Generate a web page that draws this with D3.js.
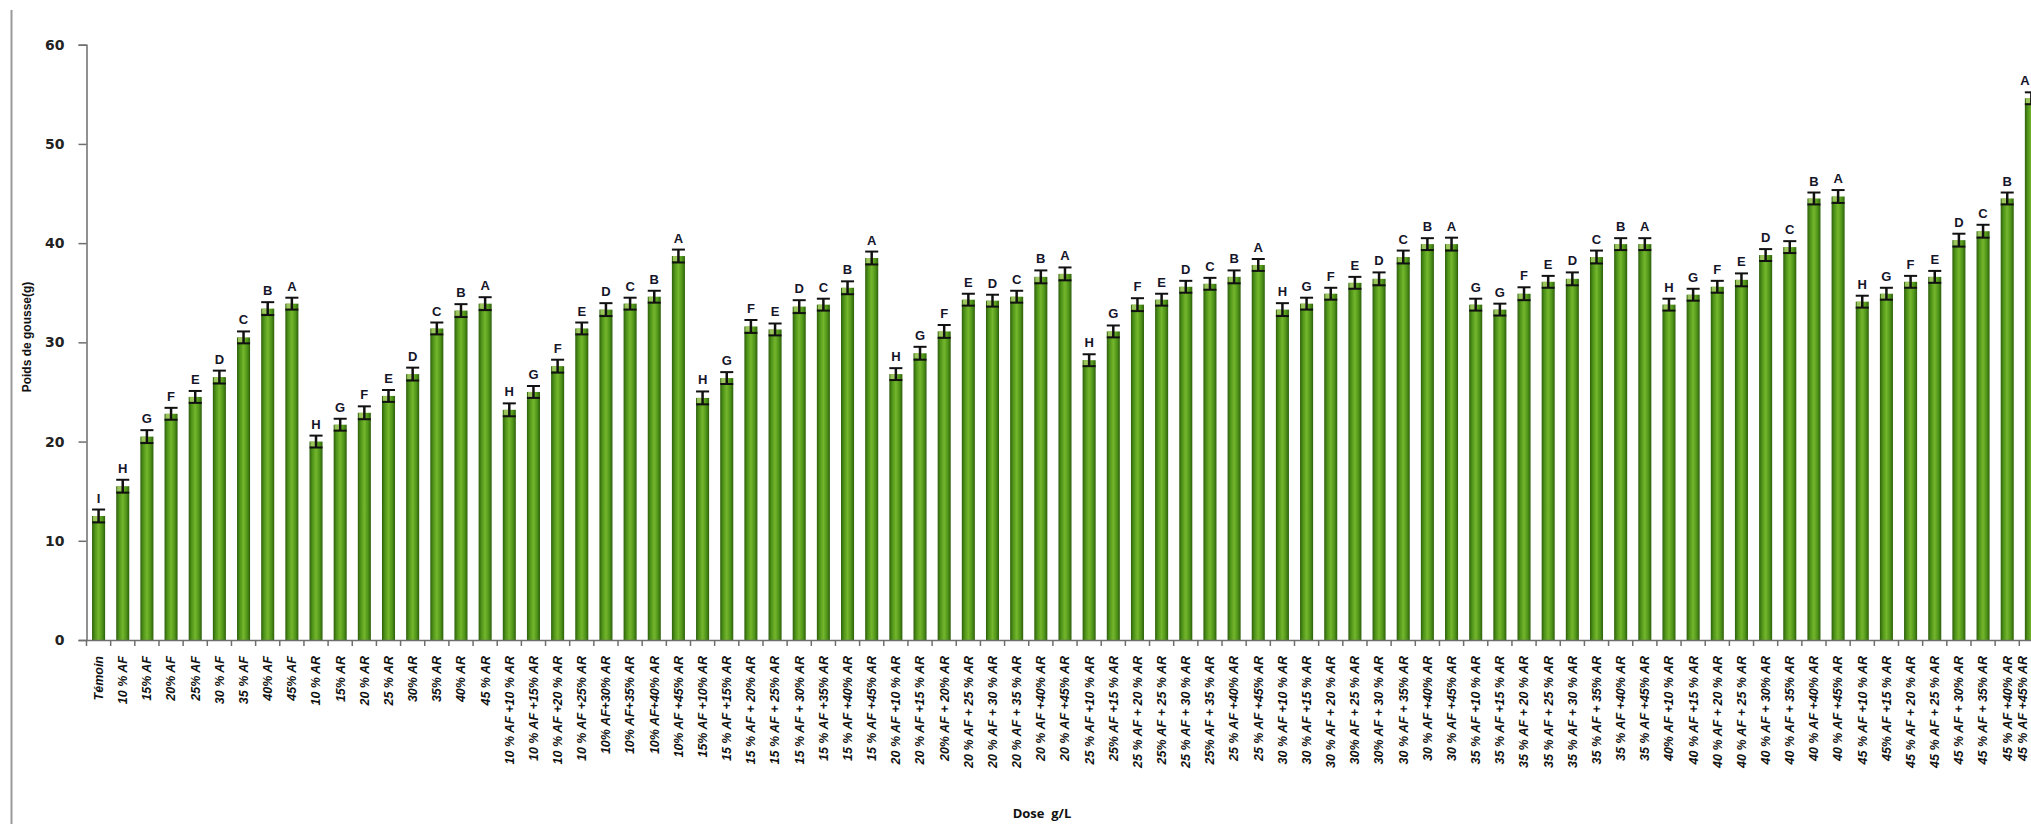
<!DOCTYPE html>
<html>
<head>
<meta charset="utf-8">
<script src="https://cdn.jsdelivr.net/npm/d3@7"></script>
<style>
  html, body { margin: 0; padding: 0; background: #ffffff; }
  svg { display: block; }
</style>
</head>
<body>
<svg id="chart" width="2031" height="824"></svg>
<script>
// Treatments (dose g/L), in the order they appear along the axis
const categories = [
  "Témoin",
  "10 % AF", "15% AF", "20% AF", "25% AF", "30 % AF", "35 % AF", "40% AF", "45% AF",
  "10 % AR", "15% AR", "20 % AR", "25 % AR", "30% AR", "35% AR", "40% AR", "45 % AR",
  "10 % AF +10 % AR", "10 % AF +15% AR", "10 % AF +20 % AR", "10 % AF +25% AR",
  "10% AF+30% AR", "10% AF+35% AR", "10% AF+40% AR", "10% AF +45% AR",
  "15% AF +10% AR", "15 % AF +15% AR", "15 % AF + 20% AR", "15 % AF + 25% AR",
  "15 % AF + 30% AR", "15 % AF +35% AR", "15 % AF +40% AR", "15 % AF +45% AR",
  "20 % AF +10 % AR", "20 % AF +15 % AR", "20% AF + 20% AR", "20 % AF + 25 % AR",
  "20 % AF + 30 % AR", "20 % AF + 35 % AR", "20 % AF +40% AR", "20 % AF +45% AR",
  "25 % AF +10 % AR", "25% AF +15 % AR", "25 % AF + 20 % AR", "25% AF + 25 % AR",
  "25 % AF + 30 % AR", "25% AF + 35 % AR", "25 % AF +40% AR", "25 % AF +45% AR",
  "30 % AF +10 % AR", "30 % AF +15 % AR", "30 % AF + 20 % AR", "30% AF + 25 % AR",
  "30% AF + 30 % AR", "30 % AF + 35% AR", "30 % AF +40% AR", "30 % AF +45% AR",
  "35 % AF +10 % AR", "35 % AF +15 % AR", "35 % AF + 20 % AR", "35 % AF + 25 % AR",
  "35 % AF + 30 % AR", "35 % AF + 35% AR", "35 % AF +40% AR", "35 % AF +45% AR",
  "40% AF +10 % AR", "40 % AF +15 % AR", "40 % AF + 20 % AR", "40 % AF + 25 % AR",
  "40 % AF + 30% AR", "40 % AF + 35% AR", "40 % AF +40% AR", "40 % AF +45% AR",
  "45 % AF +10 % AR", "45% AF +15 % AR", "45 % AF + 20 % AR", "45 % AF + 25 % AR",
  "45 % AF + 30% AR", "45 % AF + 35% AR", "45 % AF +40% AR", "45 % AF +45% AR"
];

// Mean pod weight (g)
const values = [
  12.5,
  15.5, 20.5, 22.8, 24.5, 26.5, 30.5, 33.4, 33.9,
  20.0, 21.7, 22.9, 24.6, 26.8, 31.4, 33.2, 33.9,
  23.2, 25.0, 27.6, 31.4, 33.3, 33.9, 34.6, 38.7,
  24.4, 26.4, 31.6, 31.3, 33.6, 33.8, 35.5, 38.5,
  26.8, 28.9, 31.1, 34.3, 34.2, 34.6, 36.6, 36.9,
  28.2, 31.1, 33.8, 34.3, 35.6, 35.9, 36.6, 37.8,
  33.3, 33.9, 34.9, 36.0, 36.4, 38.6, 39.9, 39.9,
  33.8, 33.3, 34.9, 36.1, 36.4, 38.6, 39.9, 39.9,
  33.8, 34.8, 35.6, 36.3, 38.8, 39.6, 44.5, 44.7,
  34.1, 34.9, 36.1, 36.6, 40.3, 41.2, 44.5, 54.6
];

// Standard error of each mean (g)
const errors = [
  0.65,
  0.65, 0.65, 0.6, 0.6, 0.65, 0.6, 0.65, 0.6,
  0.6, 0.6, 0.65, 0.6, 0.65, 0.6, 0.65, 0.65,
  0.65, 0.6, 0.65, 0.6, 0.65, 0.6, 0.6, 0.65,
  0.65, 0.6, 0.65, 0.6, 0.65, 0.6, 0.65, 0.65,
  0.6, 0.65, 0.65, 0.6, 0.6, 0.6, 0.65, 0.65,
  0.6, 0.6, 0.65, 0.6, 0.6, 0.6, 0.65, 0.6,
  0.65, 0.6, 0.6, 0.6, 0.65, 0.65, 0.6, 0.65,
  0.6, 0.6, 0.65, 0.6, 0.65, 0.65, 0.6, 0.6,
  0.6, 0.6, 0.6, 0.65, 0.6, 0.6, 0.6, 0.65,
  0.6, 0.6, 0.6, 0.6, 0.65, 0.65, 0.6, 0.6
];

// Significance groups
const groups = [
  "I",
  "H", "G", "F", "E", "D", "C", "B", "A",
  "H", "G", "F", "E", "D", "C", "B", "A",
  "H", "G", "F", "E", "D", "C", "B", "A",
  "H", "G", "F", "E", "D", "C", "B", "A",
  "H", "G", "F", "E", "D", "C", "B", "A",
  "H", "G", "F", "E", "D", "C", "B", "A",
  "H", "G", "F", "E", "D", "C", "B", "A",
  "G", "G", "F", "E", "D", "C", "B", "A",
  "H", "G", "F", "E", "D", "C", "B", "A",
  "H", "G", "F", "E", "D", "C", "B", "A"
];

const yTicks = [0, 10, 20, 30, 40, 50, 60];

const rows = categories.map((c, i) => ({ cat: c, v: values[i], e: errors[i], g: groups[i] }));

const W = 2031;
const svg = d3.select("#chart");
const x0 = 86.5, step = 24.16;
const x = d3.scaleBand()
  .domain(categories)
  .range([x0, x0 + categories.length * step])
  .paddingInner(0.46)
  .paddingOuter(0.23);
const y = d3.scaleLinear().domain([0, 60]).range([640, 44.7]);

// frame line on the left
svg.append("line")
  .attr("x1", 11.5).attr("x2", 11.5).attr("y1", 10).attr("y2", 824)
  .attr("stroke", "#9a9a9a").attr("stroke-width", 2);

// bar shading
const defs = svg.append("defs");
const grad = defs.append("linearGradient").attr("id", "barFill")
  .attr("x1", "0").attr("x2", "1").attr("y1", "0").attr("y2", "0");
[["0%", "#2d5f0b"], ["22%", "#4f9419"], ["50%", "#74b62c"], ["78%", "#4f9419"], ["100%", "#2d5f0b"]]
  .forEach(([o, c]) => grad.append("stop").attr("offset", o).attr("stop-color", c));

const bw = x.bandwidth();

svg.append("g").selectAll("rect.bar")
  .data(rows).join("rect")
  .attr("class", "bar")
  .attr("x", d => x(d.cat))
  .attr("y", d => y(d.v))
  .attr("width", bw)
  .attr("height", d => y(0) - y(d.v))
  .attr("fill", "url(#barFill)");

// light cap at the top of each bar
svg.append("g").selectAll("rect")
  .data(rows).join("rect")
  .attr("x", d => x(d.cat) + 1)
  .attr("y", d => y(d.v))
  .attr("width", bw * 0.45)
  .attr("height", 5)
  .attr("fill", "#a9cc6a")
  .attr("opacity", 0.85);

// error bars
const eg = svg.append("g").attr("stroke", "#111").attr("stroke-width", 2);
rows.forEach(d => {
  const cx = x(d.cat) + bw / 2;
  const hi = y(d.v + d.e), lo = y(d.v - d.e);
  eg.append("line").attr("x1", cx).attr("x2", cx).attr("y1", hi).attr("y2", lo).attr("stroke-width", 2.5);
  eg.append("line").attr("x1", cx - bw / 2).attr("x2", cx + bw / 2).attr("y1", hi).attr("y2", hi);
  eg.append("line").attr("x1", cx - bw / 2).attr("x2", cx + bw / 2).attr("y1", lo).attr("y2", lo);
});

// group letters (kept inside the drawing area at the right edge)
svg.append("g").selectAll("text")
  .data(rows).join("text")
  .attr("x", d => Math.min(x(d.cat) + bw / 2, W - 6))
  .attr("y", d => y(d.v + d.e) - 7)
  .attr("text-anchor", "middle")
  .attr("font-family", "'Liberation Sans', Arial, sans-serif")
  .attr("font-weight", "bold")
  .attr("font-size", 13)
  .attr("fill", "#15152a")
  .text(d => d.g);

// y axis
const yAxis = svg.append("g")
  .attr("transform", "translate(" + x0 + ",0)")
  .call(d3.axisLeft(y).tickValues(yTicks).tickSize(8).tickPadding(14));
yAxis.select(".domain").attr("stroke", "#6e6e6e").attr("stroke-width", 1.5);
yAxis.selectAll(".tick line").attr("stroke", "#6e6e6e").attr("stroke-width", 1.5);
yAxis.selectAll(".tick text")
  .attr("font-family", "'DejaVu Sans', Verdana, sans-serif")
  .attr("font-weight", "bold")
  .attr("font-size", 14)
  .attr("fill", "#222");

// x axis: baseline, boundary ticks, rotated labels
const xAxis = svg.append("g")
  .attr("transform", "translate(0," + y(0) + ")")
  .call(d3.axisBottom(x).tickSize(0).tickPadding(16));
xAxis.select(".domain").attr("stroke", "#6e6e6e").attr("stroke-width", 1.5);
xAxis.selectAll(".tick")
  .attr("transform", d => "translate(" + Math.min(x(d) + bw / 2, W - 8) + ",0)");
xAxis.selectAll(".tick text")
  .attr("transform", "rotate(-90)")
  .attr("text-anchor", "end")
  .attr("x", -16)
  .attr("y", 0)
  .attr("dy", "0.35em")
  .attr("font-family", "'Liberation Sans', Arial, sans-serif")
  .attr("font-weight", "bold")
  .attr("font-style", "italic")
  .attr("font-size", 12.5)
  .attr("fill", "#111");

const bounds = categories.map(c => x(c) - (x.step() - bw) / 2).concat([x0 + categories.length * step]);
xAxis.append("g").selectAll("line")
  .data(bounds).join("line")
  .attr("x1", d => d).attr("x2", d => d)
  .attr("y1", 0).attr("y2", 6)
  .attr("stroke", "#6e6e6e").attr("stroke-width", 1.5);

// axis titles
svg.append("text")
  .attr("transform", "translate(31,337) rotate(-90)")
  .attr("text-anchor", "middle")
  .attr("font-family", "'Liberation Sans', Arial, sans-serif")
  .attr("font-weight", "bold")
  .attr("font-size", 12)
  .attr("fill", "#111")
  .text("Poids de gousse(g)");

svg.append("text")
  .attr("x", 1042).attr("y", 818)
  .attr("text-anchor", "middle")
  .attr("font-family", "'Open Sans', 'Liberation Sans', sans-serif")
  .attr("font-weight", "bold")
  .attr("font-size", 13)
  .attr("fill", "#111")
  .attr("xml:space", "preserve")
  .text("Dose  g/L");
</script>
</body>
</html>
